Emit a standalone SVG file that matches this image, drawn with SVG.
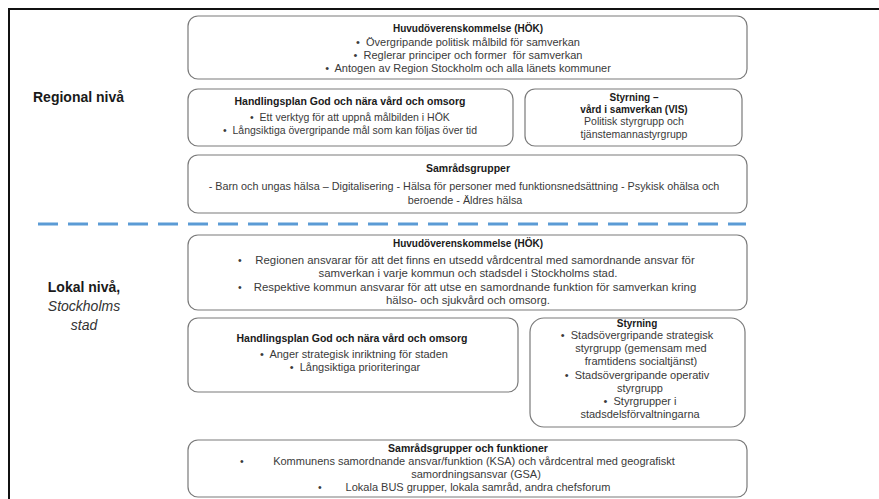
<svg xmlns="http://www.w3.org/2000/svg" width="879" height="499" viewBox="0 0 879 499">
<style>
  .box{fill:#fff;stroke:#7a7a7a;stroke-width:1.2}
  .t{font-family:"Liberation Sans",Arial,sans-serif;font-size:10.5px;font-weight:bold;fill:#1a1a1a;text-anchor:middle}
  .h{font-size:10px}
  .b{font-family:"Liberation Sans",Arial,sans-serif;font-size:10.5px;fill:#3a3a3a;text-anchor:middle;white-space:pre}
  .s{font-family:"Liberation Sans",Arial,sans-serif;font-size:10.5px;fill:#3a3a3a}
  .big{font-size:11px}
  .xl{font-size:11.4px}
  .lvl{font-family:"Liberation Sans",Arial,sans-serif;font-size:14px;font-weight:bold;fill:#1a1a1a}
  .lvi{font-family:"Liberation Sans",Arial,sans-serif;font-size:14px;font-style:italic;fill:#333;text-anchor:middle}
</style>
<rect width="879" height="499" fill="#fff"/>
<g id="frame">
  <path d="M9,499 V9 H879" fill="none" stroke="#111" stroke-width="2"/>
</g>
<g id="labels">
  <text class="lvl" x="33" y="102">Regional nivå</text>
  <text class="lvl" x="84" y="292" text-anchor="middle">Lokal nivå,</text>
  <text class="lvi" x="84" y="311">Stockholms</text>
  <text class="lvi" x="84" y="330">stad</text>
</g>
<g id="connectors">
  <line x1="38" y1="224" x2="746" y2="224" stroke="#5b9bd5" stroke-width="3" stroke-dasharray="20,10"/>
</g>
<g id="reg-hok">
  <rect class="box" x="188" y="16" width="559" height="63" rx="10"/>
  <text class="t h" x="468" y="32">Huvudöverenskommelse (HÖK)</text>
  <text class="b big" x="468" y="46">•  Övergripande politisk målbild för samverkan</text>
  <text class="b big" x="468" y="59">•  Reglerar principer och former  för samverkan</text>
  <text class="b big" x="468" y="72">•  Antogen av Region Stockholm och alla länets kommuner</text>
</g>
<g id="reg-handlingsplan">
  <rect class="box" x="188" y="89" width="325" height="57" rx="10"/>
  <text class="t" x="350" y="105">Handlingsplan God och nära vård och omsorg</text>
  <text class="b" x="350" y="121">•  Ett verktyg för att uppnå målbilden i HÖK</text>
  <text class="b" x="350" y="134">•  Långsiktiga övergripande mål som kan följas över tid</text>
</g>
<g id="reg-styrning">
  <rect class="box" x="525" y="89" width="217" height="57" rx="10"/>
  <text class="t h" x="634" y="101">Styrning –</text>
  <text class="t h" x="634" y="113">vård i samverkan (VIS)</text>
  <text class="b" x="634" y="125">Politisk styrgrupp och</text>
  <text class="b" x="634" y="138">tjänstemannastyrgrupp</text>
</g>
<g id="reg-samrad">
  <rect class="box" x="188" y="155" width="559" height="58" rx="10"/>
  <text class="t" x="468" y="172">Samrådsgrupper</text>
  <text class="b" x="464" y="190" style="font-size:10.8px">- Barn och ungas hälsa – Digitalisering - Hälsa för personer med funktionsnedsättning - Psykisk ohälsa och</text>
  <text class="b" x="465" y="204" style="font-size:10.8px">beroende - Äldres hälsa</text>
</g>
<g id="lok-hok">
  <rect class="box" x="188" y="235" width="559" height="75" rx="10"/>
  <text class="t h" x="468" y="247">Huvudöverenskommelse (HÖK)</text>
  <text class="s" x="238" y="264">•</text>
  <text class="b xl" x="475" y="264">Regionen ansvarar för att det finns en utsedd vårdcentral med samordnande ansvar för</text>
  <text class="b xl" x="468" y="277">samverkan i varje kommun och stadsdel i Stockholms stad.</text>
  <text class="s" x="238" y="291">•</text>
  <text class="b xl" x="475" y="291">Respektive kommun ansvarar för att utse en samordnande funktion för samverkan kring</text>
  <text class="b xl" x="468" y="304">hälso- och sjukvård och omsorg.</text>
</g>
<g id="lok-handlingsplan">
  <rect class="box" x="188" y="318" width="330" height="74" rx="10"/>
  <text class="t" x="352" y="342">Handlingsplan God och nära vård och omsorg</text>
  <text class="b big" x="354" y="358">•  Anger strategisk inriktning för staden</text>
  <text class="b big" x="355" y="371">•  Långsiktiga prioriteringar</text>
</g>
<g id="lok-styrning">
  <rect class="box" x="530" y="318" width="215" height="109" rx="14"/>
  <text class="t h" x="637" y="327">Styrning</text>
  <text class="b big" x="637" y="339">•  Stadsövergripande strategisk</text>
  <text class="b big" x="641" y="352">styrgrupp (gemensam med</text>
  <text class="b big" x="641" y="365">framtidens socialtjänst)</text>
  <text class="b big" x="637" y="379">•  Stadsövergripande operativ</text>
  <text class="b big" x="640" y="392">styrgrupp</text>
  <text class="b big" x="640" y="405">•  Styrgrupper i</text>
  <text class="b big" x="640" y="418">stadsdelsförvaltningarna</text>
</g>
<g id="lok-samrad">
  <rect class="box" x="188" y="440" width="559" height="57" rx="10"/>
  <text class="t" x="468" y="452">Samrådsgrupper och funktioner</text>
  <text class="s" x="240" y="465">•</text>
  <text class="b big" x="474" y="465">Kommunens samordnande ansvar/funktion (KSA) och vårdcentral med geografiskt</text>
  <text class="b big" x="476" y="478">samordningsansvar (GSA)</text>
  <text class="s" x="318" y="491">•</text>
  <text class="b big" x="478" y="491">Lokala BUS grupper, lokala samråd, andra chefsforum</text>
</g>
</svg>
